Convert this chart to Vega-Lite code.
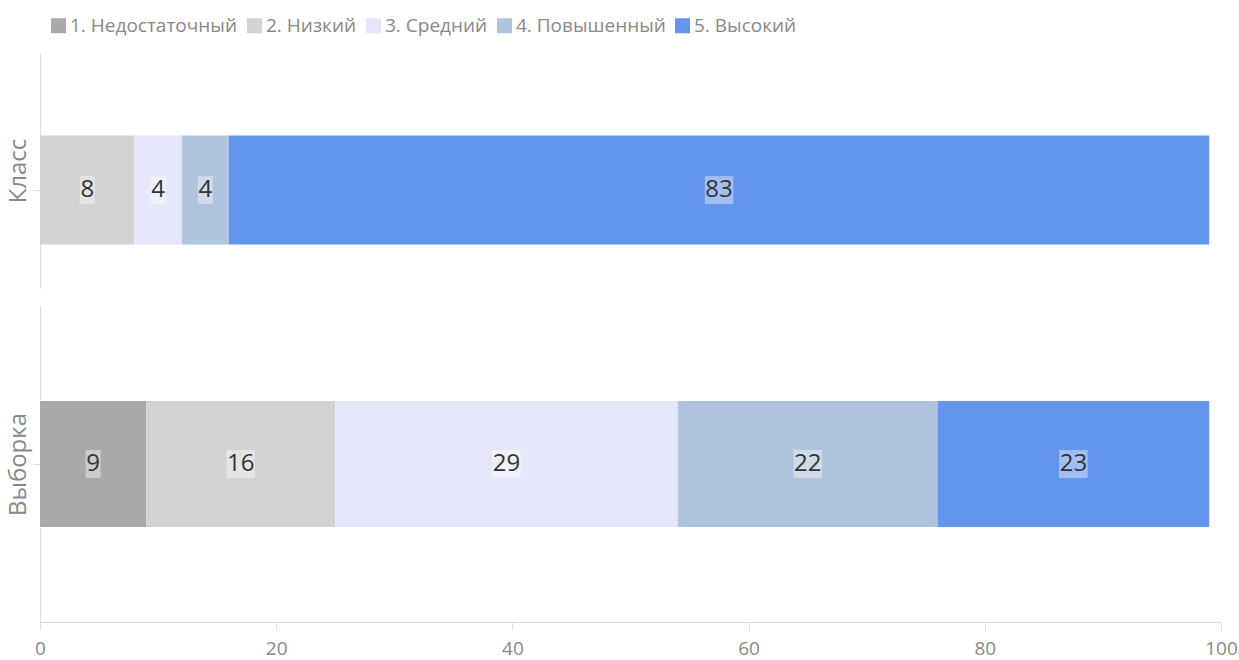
{
  "$schema": "https://vega.github.io/schema/vega-lite/v6.json",
  "autosize": {"type": "pad"},
  "padding": {"left": 6, "top": 16, "right": 17, "bottom": 4},
  "background": "white",
  "config": {
    "font": "Open Sans",
    "view": {"stroke": null},
    "axis": {"grid": false, "domainColor": "#dddddd", "tickColor": "#dddddd", "labelColor": "#888888", "titleColor": "#888888", "titleFontWeight": "normal"}
  },
  "data": {
    "values": [
      {"group": "Класс", "level": "2. Низкий", "value": 8},
      {"group": "Класс", "level": "3. Средний", "value": 4},
      {"group": "Класс", "level": "4. Повышенный", "value": 4},
      {"group": "Класс", "level": "5. Высокий", "value": 83},
      {"group": "Выборка", "level": "1. Недостаточный", "value": 9},
      {"group": "Выборка", "level": "2. Низкий", "value": 16},
      {"group": "Выборка", "level": "3. Средний", "value": 29},
      {"group": "Выборка", "level": "4. Повышенный", "value": 22},
      {"group": "Выборка", "level": "5. Высокий", "value": 23}
    ]
  },
  "transform": [
    {"stack": "value", "groupby": ["group"], "sort": [{"field": "level", "order": "ascending"}], "as": ["x0", "x1"]},
    {"calculate": "(datum.x0 + datum.x1) / 2", "as": "mid"}
  ],
  "spacing": 18,
  "vconcat": [
    {
      "width": 1181,
      "height": 235,
      "transform": [{"filter": "datum.group === 'Класс'"}],
      "encoding": {
        "y": {"field": "group", "type": "nominal", "scale": {"paddingInner": 0, "paddingOuter": 0.578, "align": 0.655},
              "axis": {"title": "Класс", "labels": false, "tickSize": 7, "titleFontSize": 24, "titlePadding": 2}}
      },
      "layer": [
        {
          "mark": {"type": "bar"},
          "encoding": {
            "x": {"field": "x0", "type": "quantitative", "scale": {"domain": [0, 100], "nice": false}, "axis": null},
            "x2": {"field": "x1"},
            "color": {"field": "level", "type": "nominal",
              "scale": {"domain": ["1. Недостаточный", "2. Низкий", "3. Средний", "4. Повышенный", "5. Высокий"], "range": ["#a9a9a9", "#d3d3d3", "#e6e6fa", "#b0c4de", "#6495ed"]},
              "legend": {"orient": "none", "legendX": 9, "legendY": -37, "direction": "horizontal", "columns": 5, "title": null, "symbolType": "square", "symbolSize": 225, "symbolStrokeWidth": 0, "labelFontSize": 19, "labelLimit": 400, "labelColor": "#888888", "labelOffset": 2, "columnPadding": 7}}
          }
        },
        {
          "transform": [{"filter": "datum.value < 10"}],
          "mark": {"type": "point", "shape": "M-0.5,-0.93L0.5,-0.93L0.5,0.93L-0.5,0.93Z", "size": 900, "filled": true, "fill": "white", "fillOpacity": 0.4, "strokeWidth": 0},
          "encoding": {"x": {"field": "mid", "type": "quantitative", "scale": {"domain": [0, 100], "nice": false}, "axis": null}}
        },
        {
          "transform": [{"filter": "datum.value >= 10"}],
          "mark": {"type": "point", "shape": "M-0.95,-0.93L0.95,-0.93L0.95,0.93L-0.95,0.93Z", "size": 900, "filled": true, "fill": "white", "fillOpacity": 0.4, "strokeWidth": 0},
          "encoding": {"x": {"field": "mid", "type": "quantitative", "scale": {"domain": [0, 100], "nice": false}, "axis": null}}
        },
        {
          "mark": {"type": "text", "fontSize": 24, "color": "#333333", "baseline": "middle"},
          "encoding": {
            "x": {"field": "mid", "type": "quantitative", "scale": {"domain": [0, 100], "nice": false}, "axis": null},
            "text": {"field": "value", "type": "quantitative"}
          }
        }
      ]
    },
    {
      "width": 1181,
      "height": 316,
      "transform": [{"filter": "datum.group === 'Выборка'"}],
      "encoding": {
        "y": {"field": "group", "type": "nominal", "scale": {"paddingInner": 0, "paddingOuter": 0.754, "align": 0.5},
              "axis": {"title": "Выборка", "labels": false, "tickSize": 7, "titleFontSize": 24, "titlePadding": 2}}
      },
      "layer": [
        {
          "mark": {"type": "bar"},
          "encoding": {
            "x": {"field": "x0", "type": "quantitative", "scale": {"domain": [0, 100], "nice": false},
                  "axis": {"title": null, "values": [0, 20, 40, 60, 80, 100], "tickSize": 8, "labelFontSize": 19, "labelPadding": 9, "labelFlush": false}},
            "x2": {"field": "x1"},
            "color": {"field": "level", "type": "nominal"}
          }
        },
        {
          "transform": [{"filter": "datum.value < 10"}],
          "mark": {"type": "point", "shape": "M-0.5,-0.93L0.5,-0.93L0.5,0.93L-0.5,0.93Z", "size": 900, "filled": true, "fill": "white", "fillOpacity": 0.4, "strokeWidth": 0},
          "encoding": {"x": {"field": "mid", "type": "quantitative"}}
        },
        {
          "transform": [{"filter": "datum.value >= 10"}],
          "mark": {"type": "point", "shape": "M-0.95,-0.93L0.95,-0.93L0.95,0.93L-0.95,0.93Z", "size": 900, "filled": true, "fill": "white", "fillOpacity": 0.4, "strokeWidth": 0},
          "encoding": {"x": {"field": "mid", "type": "quantitative"}}
        },
        {
          "mark": {"type": "text", "fontSize": 24, "color": "#333333", "baseline": "middle"},
          "encoding": {
            "x": {"field": "mid", "type": "quantitative"},
            "text": {"field": "value", "type": "quantitative"}
          }
        }
      ]
    }
  ]
}
